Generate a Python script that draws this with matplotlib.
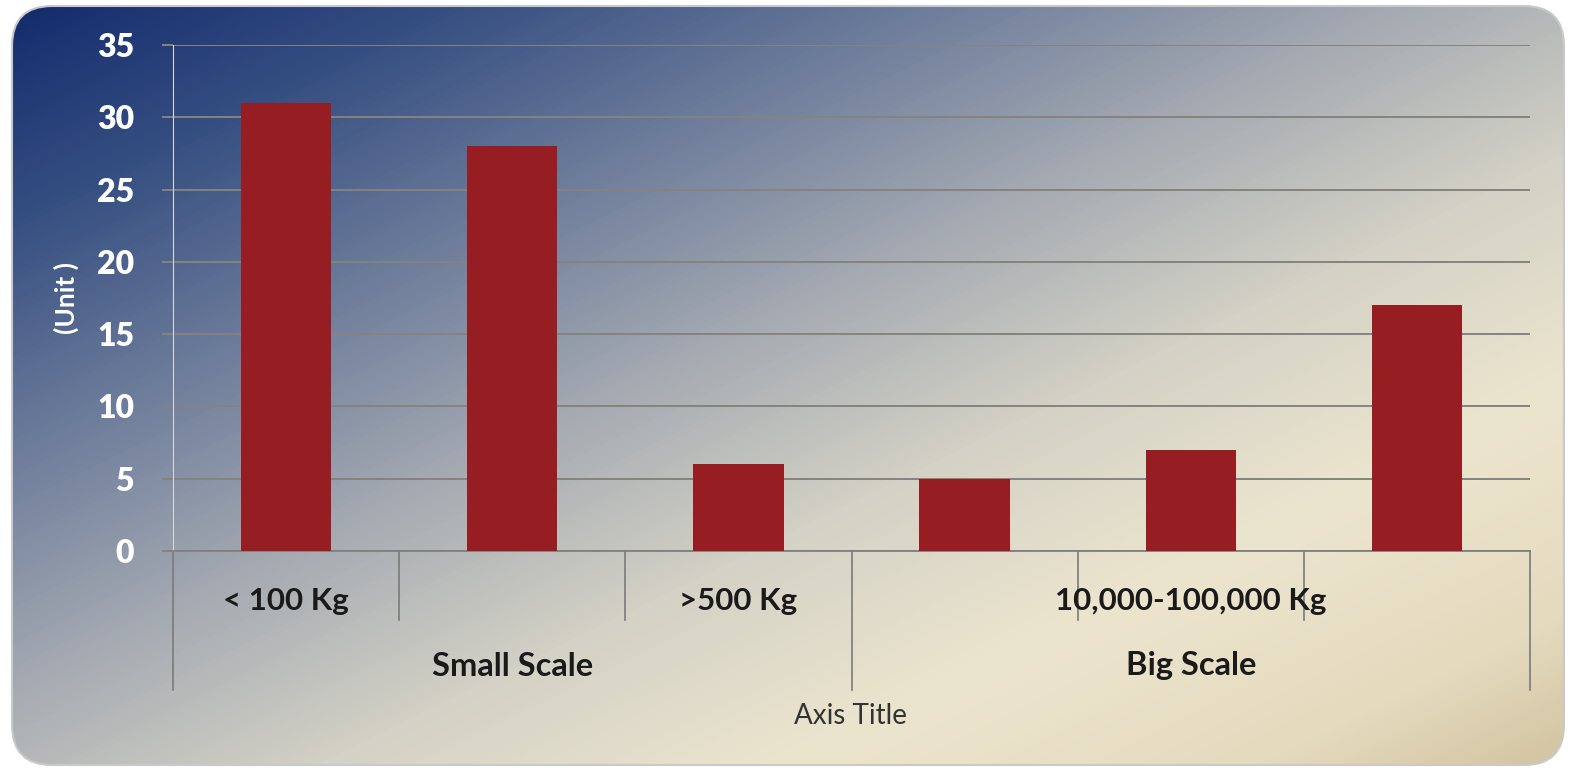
import numpy as np
import matplotlib
matplotlib.use('Agg')
import matplotlib.pyplot as plt
from matplotlib.colors import LinearSegmentedColormap
from matplotlib.patches import FancyBboxPatch
import matplotlib.transforms as mtransforms

# chart data
sizes = ['< 100 Kg', '', '>500 Kg', '', '10,000-100,000 Kg', '']
scales = ['Small Scale', 'Small Scale', 'Small Scale', 'Big Scale', 'Big Scale', 'Big Scale']
units = [31, 28, 6, 5, 7, 17]
yticks = [0, 5, 10, 15, 20, 25, 30, 35]

W, H = 1570, 771
fig = plt.figure(figsize=(W / 100, H / 100), dpi=100)
fig.patch.set_facecolor('white')

# gradient background inside a rounded frame
bg = fig.add_axes([0, 0, 1, 1])
bg.set_xlim(0, W)
bg.set_ylim(H, 0)
bg.axis('off')
stops = [(0.0, (18, 42, 108)), (0.15, (55, 80, 130)), (0.3, (110, 125, 155)),
         (0.45, (165, 170, 178)), (0.6, (212, 210, 198)), (0.75, (236, 229, 206)),
         (0.9, (228, 218, 190)), (1.0, (210, 195, 160))]
cmap = LinearSegmentedColormap.from_list('bg', [(s, tuple(c / 255 for c in col)) for s, col in stops])
xx, yy = np.meshgrid(np.linspace(0, 1, 400), np.linspace(0, 1, 200))
t = 0.5 * xx + 0.5 * yy
frame = FancyBboxPatch((12, 6), W - 18, H - 12, boxstyle='round,pad=0,rounding_size=40',
                       transform=bg.transData, facecolor='none', edgecolor='#c9c9c9', lw=1.5)
im = bg.imshow(t, cmap=cmap, extent=[0, W, H, 0], aspect='auto', interpolation='bilinear')
im.set_clip_path(frame)
bg.add_patch(frame)

# main chart
ax = fig.add_axes([173 / W, 1 - 551 / H, (1530 - 173) / W, (551 - 45) / H])
ax.patch.set_alpha(0)
x = np.arange(len(units))
ax.bar(x, units, width=0.4, color='#961E22', zorder=3)
ax.set_xlim(-0.5, len(units) - 0.5)
ax.set_ylim(0, 35)
ax.set_yticks(yticks)
ax.set_xticks([])
ax.grid(axis='y', color='#85837e', lw=1.4, zorder=1)
ax.tick_params(axis='y', length=8, color='#85837e', width=1.4, pad=20,
               labelcolor='white', labelsize=23)
for lab in ax.get_yticklabels():
    lab.set_fontweight('heavy')
    lab.set_family('Lato')
for s in ['top', 'right']:
    ax.spines[s].set_visible(False)
ax.spines['left'].set_color('#d5d8de')
ax.spines['bottom'].set_color('#808080')
ax.spines['bottom'].set_linewidth(1.3)

# multi-level category axis
trans = mtransforms.blended_transform_factory(ax.transData, ax.transAxes)
lvl1 = -(620 - 551) / 506
lvl2 = -(690 - 551) / 506
n = len(units)
for i in range(n + 1):
    full = i == 0 or i == n or scales[i - 1] != scales[i]
    ax.plot([i - 0.5, i - 0.5], [0, lvl2 if full else lvl1], transform=trans,
            color='#7a7a7a', lw=1.2, clip_on=False)
for i, s in enumerate(sizes):
    if s:
        ax.text(i, -(601 - 551) / 506, s, transform=trans, ha='center', va='center',
                fontsize=22.5, fontweight='bold', family='Lato', color='#1a1a1a')
groups = []
for i, g in enumerate(scales):
    if not groups or groups[-1][0] != g:
        groups.append([g, i, i])
    else:
        groups[-1][2] = i
for g, a, b in groups:
    ax.text((a + b) / 2, -(666 - 551) / 506, g, transform=trans, ha='center', va='center',
            fontsize=23.5, fontweight='bold', family='Lato', color='#1a1a1a')

fig.text(850 / W, 1 - 716 / H, 'Axis Title', ha='center', va='center',
         fontsize=20, family='Lato', color='#333333')
fig.text(66 / W, 1 - 298 / H, '(Unit )', ha='center', va='center', rotation=90,
         fontsize=19, fontweight='bold', family='Lato', color='white')

fig.savefig('out.png', dpi=100)
